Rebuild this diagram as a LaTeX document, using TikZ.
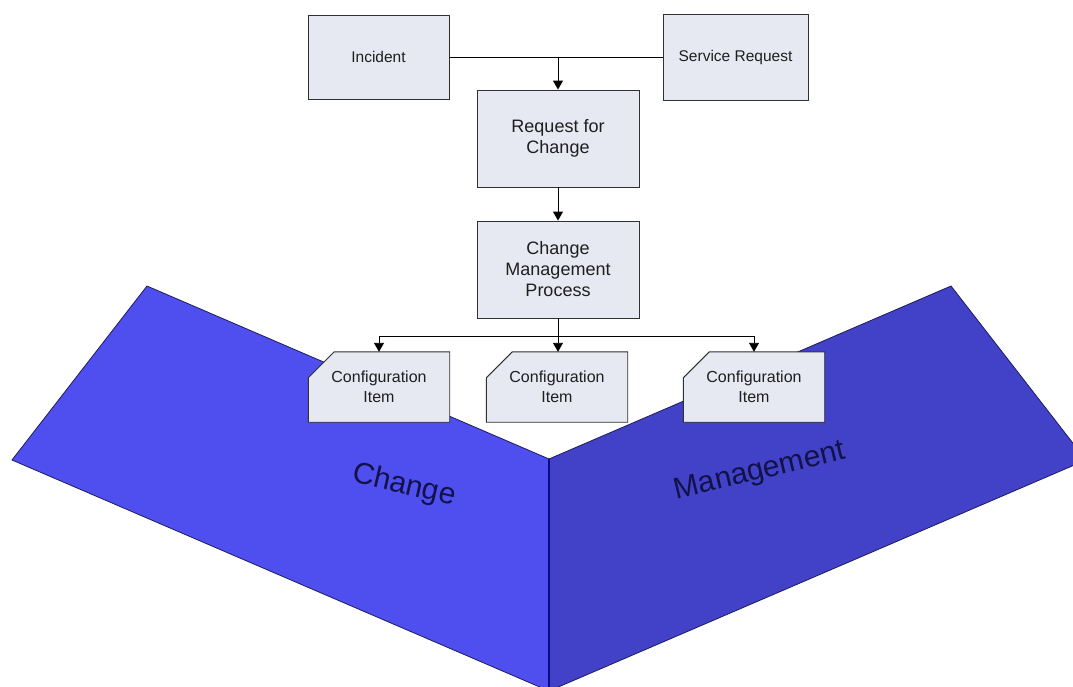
\documentclass[tikz,border=0pt]{standalone}
\usepackage{fontspec}
\setmainfont{Liberation Sans}
\usetikzlibrary{arrows.meta,calc}

\definecolor{boxfill}{HTML}{E6E8F2}
\definecolor{boxline}{HTML}{303030}
\definecolor{wingleft}{HTML}{4F4FEF}
\definecolor{wingright}{HTML}{4242C8}
\definecolor{wingedge}{HTML}{1C1C5A}
\definecolor{foldline}{HTML}{0A0A8A}
\definecolor{wingtext}{HTML}{121248}

\pgfdeclarelayer{wings}
\pgfdeclarelayer{cishape}
\pgfsetlayers{wings,cishape,main}

\tikzset{
  procbox/.style={draw=boxline, fill=boxfill, line width=0.9pt, align=center,
    text=black!88, inner sep=0pt},
  cibox/.style={draw=none, fill=none, align=center, text=black!88, inner sep=0pt,
    minimum width=141pt, minimum height=70pt,
    font=\fontsize{16}{20}\selectfont},
  cishape/.style={draw=boxline, fill=boxfill, line width=0.9pt},
  flow/.style={draw=black, line width=0.9pt},
  flowarrow/.style={flow, -{Triangle[length=9pt,width=10pt]}},
  wing/.style={draw=wingedge, line width=0.8pt, line join=miter},
  winglabel/.style={text=wingtext, font=\fontsize{30}{34}\selectfont}
}

\begin{document}
\begin{tikzpicture}[x=1pt, y=-1pt]
  \useasboundingbox (0,0) rectangle (1073,686);

  % white page and the two folded panels
  \begin{pgfonlayer}{wings}
    \fill[white] (0,0) rectangle (1073,686);
    \clip (0,0) rectangle (1073,686);
    \coordinate (lt) at (147,286);
    \coordinate (ll) at (12,460);
    \coordinate (vtop) at (549,459);
    \coordinate (vbot) at (549,691);
    \coordinate (rt) at (951,286);
    \coordinate (rr) at (1086,460);
    \path[wing, fill=wingleft] (lt) -- (vtop) -- (vbot) -- (ll) -- cycle;
    \path[wing, fill=wingright] (rt) -- (rr) -- (vbot) -- (vtop) -- cycle;
    \draw[foldline, line width=2pt] (vtop) -- (vbot);
  \end{pgfonlayer}

  \node[winglabel, rotate=-13] (chg) at (404,486) {Change};
  \node[winglabel, rotate=13.5] (mgmt) at (760,472) {Management};

  % process boxes
  \node[procbox, minimum width=141pt, minimum height=84pt,
        font=\fontsize{15.5}{19}\selectfont] (inc) at (378.5,57) {Incident};
  \node[procbox, minimum width=145pt, minimum height=86pt,
        font=\fontsize{15.5}{19}\selectfont] (sr) at (735.5,57) {Service Request};
  \node[procbox, minimum width=162pt, minimum height=97pt,
        font=\fontsize{18}{21}\selectfont] (rfc) at (558,138.5) {Request for\\Change};
  \node[procbox, minimum width=162pt, minimum height=97pt,
        font=\fontsize{18}{21}\selectfont] (cmp) at (558,269.5) {Change\\Management\\Process};

  % configuration items with a cut top-left corner
  \node[cibox] (ci1) at (379,387) {Configuration\\Item};
  \node[cibox] (ci2) at (557,387) {Configuration\\Item};
  \node[cibox] (ci3) at (754,387) {Configuration\\Item};
  \begin{pgfonlayer}{cishape}
    \foreach \c in {ci1,ci2,ci3} {
      \path[cishape]
        (\c.south west) -- (\c.south east) -- (\c.north east)
        -- ([xshift=26pt]\c.north west) -- ([yshift=-26pt]\c.north west) -- cycle;
    }
  \end{pgfonlayer}

  % connectors
  \draw[flow] (inc.east) -- (sr.west);
  \draw[flowarrow] (inc.east -| rfc.north) -- (rfc.north);
  \draw[flowarrow] (rfc.south) -- (cmp.north);
  \coordinate (split) at (557,336);
  \draw[flow] (ci1.north |- split) -- (ci3.north |- split);
  \draw[flowarrow] (cmp.south) -- (cmp.south |- ci2.north);
  \draw[flowarrow] (ci1.north |- split) -- (ci1.north);
  \draw[flowarrow] (ci3.north |- split) -- (ci3.north);
\end{tikzpicture}
\end{document}
